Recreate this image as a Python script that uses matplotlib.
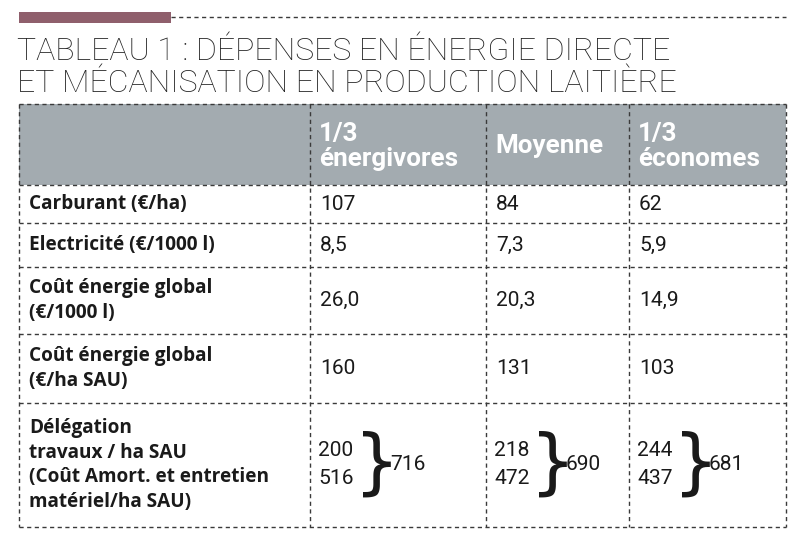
import matplotlib
matplotlib.use("Agg")
import matplotlib.pyplot as plt
from matplotlib.patches import Rectangle

# ── Table content ─────────────────────────────────────────────────────────────
title_lines = ["TABLEAU 1 : DÉPENSES EN ÉNERGIE DIRECTE",
               "ET MÉCANISATION EN PRODUCTION LAITIÈRE"]
col_headers = ["1/3\nénergivores", "Moyenne", "1/3\néconomes"]
row_labels = ["Carburant (€/ha)",
              "Electricité (€/1000 l)",
              "Coût énergie global\n(€/1000 l)",
              "Coût énergie global\n(€/ha SAU)",
              "Délégation\ntravaux / ha SAU\n(Coût Amort. et entretien\nmatériel/ha SAU)"]
values = [["107", "84", "62"],
          ["8,5", "7,3", "5,9"],
          ["26,0", "20,3", "14,9"],
          ["160", "131", "103"]]
deleg = ["200", "218", "244"]
amort = ["516", "472", "437"]
totals = ["716", "690", "681"]

# ── Layout (pixels) ───────────────────────────────────────────────────────────
W, H = 800, 548
x_cols = [19, 310, 486, 629, 786]
y_rows = [104, 185, 223, 267, 334, 403, 527]
LINE = "#3a3a3a"
HEAD = "#a3abb0"
TXT = "#1a1a1a"
BODY_FONT = "Open Sans"

fig = plt.figure(figsize=(W / 100, H / 100), dpi=100)
ax = fig.add_axes([0, 0, 1, 1])
ax.set_xlim(0, W)
ax.set_ylim(H, 0)
ax.axis("off")

def px(s):
    return s * 0.72

# top ribbon
ax.add_patch(Rectangle((19, 12), 152, 11, color="#8f5f6c", lw=0))
ax.plot([171, 786], [17, 17], color=LINE, lw=1, ls=(0, (3, 2.5)))

# title
for i, line in enumerate(title_lines):
    ax.text(17, 52 + i * 31, line, fontsize=px(32), family="Roboto",
            fontweight="light", color="#222222", va="center", ha="left")

# header fill
ax.add_patch(Rectangle((x_cols[0], y_rows[0]), x_cols[-1] - x_cols[0],
                       y_rows[1] - y_rows[0], color=HEAD, lw=0))

dash = (0, (3, 2.5))
for y in y_rows:
    ax.plot([x_cols[0], x_cols[-1]], [y, y], color=LINE, lw=1, ls=dash)
for x in x_cols:
    ax.plot([x, x], [y_rows[0], y_rows[-1]], color=LINE, lw=1, ls=dash)

# column headers
for j, h in enumerate(col_headers):
    ax.text(x_cols[j + 1] + 9, (y_rows[0] + y_rows[1]) / 2 + 2, h,
            fontsize=px(26), family="Roboto", fontweight="bold",
            color="white", va="center", ha="left", linespacing=1.05)

# row labels and values
for i, lab in enumerate(row_labels):
    yc = (y_rows[i + 1] + y_rows[i + 2]) / 2
    ax.text(x_cols[0] + 10, yc, lab, fontsize=px(19), family=BODY_FONT,
            fontweight="bold", color=TXT, va="center", ha="left",
            linespacing=1.3)
    if i < len(values):
        for j, v in enumerate(values[i]):
            ax.text(x_cols[j + 1] + 10, yc, v, fontsize=px(21),
                    family="Roboto", color=TXT, va="center", ha="left")

# last row with braces
yc = (y_rows[5] + y_rows[6]) / 2
for j in range(3):
    x0 = x_cols[j + 1] + 8
    ax.text(x0, yc - 14, deleg[j], fontsize=px(21), family="Roboto",
            color=TXT, va="center", ha="left")
    ax.text(x0, yc + 14, amort[j], fontsize=px(21), family="Roboto",
            color=TXT, va="center", ha="left")
    ax.text(x0 + 36, yc, "}", fontsize=px(72), family="DejaVu Sans",
            color=TXT, va="center", ha="left")
    ax.text(x0 + 72, yc, totals[j], fontsize=px(21), family="Roboto",
            color=TXT, va="center", ha="left")

fig.savefig("out.png", dpi=100)
